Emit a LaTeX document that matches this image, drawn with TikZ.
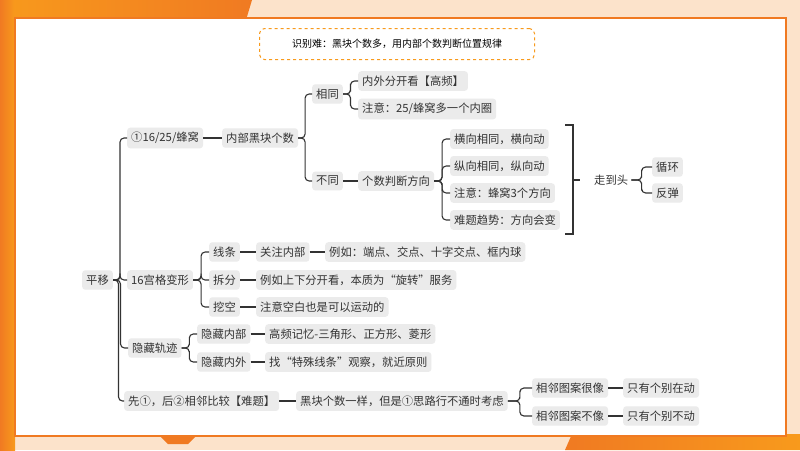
\documentclass[tikz,border=0pt]{standalone}
\usepackage{fontspec}
\setmainfont{Noto Sans CJK SC}
\usetikzlibrary{calc}
\begin{document}
\begin{tikzpicture}[x=1pt,y=-1pt,
  nd/.style={anchor=west,fill=black!8,rounded corners=3pt,inner xsep=4pt,inner ysep=4.5pt,font=\fontsize{11.3}{12}\selectfont,text=black!80},
  pl/.style={anchor=west,inner sep=3pt,font=\fontsize{11.3}{12}\selectfont,text=black!80},
  ln/.style={draw=black!80,line width=1.1pt,rounded corners=4pt}]
\definecolor{peach}{HTML}{FCE3CB}
\definecolor{org}{HTML}{F07A22}
\definecolor{orgL}{HTML}{F89A1C}
\useasboundingbox (0,0) rectangle (800,450);
\fill[peach] (0,0) rectangle (800,450);
\shade[left color=orgL,right color=org] (0,0) -- (252,0) -- (246,20) -- (0,20) -- cycle;
\shade[left color=org,right color=orgL] (0,0) -- (15,0) -- (15,450) -- (0,450) -- cycle;
\shade[left color=org,right color=orgL] (565,450) -- (572,434) -- (800,434) -- (800,450) -- cycle;
\fill[org] (160,436) -- (196,436) -- (188,444) -- (168,444) -- cycle;
\draw[org,line width=1.5pt,fill=white] (15,18) rectangle (786,436);
\node[draw=orgL,dashed,line width=1pt,rounded corners=5pt,minimum width=275,minimum height=31,font=\fontsize{10}{11}\selectfont] (top) at (397,44) {识别难：黑块个数多，用内部个数判断位置规律};

\node[nd] (r) at (82,280) {平移};
\node[nd] (a) at (127,138) {①16/25/蜂窝};
\node[nd] (a1) at (222,138) {内部黑块个数};
\node[nd] (s) at (312,94) {相同};
\node[nd] (s1) at (358,81) {内外分开看【高频】};
\node[nd] (s2) at (358,109) {注意：25/蜂窝多一个内圈};
\node[nd] (d) at (312,181) {不同};
\node[nd] (d1) at (358,181) {个数判断方向};
\node[nd] (e1) at (450,139) {横向相同，横向动};
\node[nd] (e2) at (450,166) {纵向相同，纵向动};
\node[nd] (e3) at (450,193) {注意：蜂窝3个方向};
\node[nd] (e4) at (450,220) {难题趋势：方向会变};
\coordinate (bk) at (580,180);
\node[pl] (w) at (591,180) {走到头};
\node[nd] (w1) at (652,167) {循环};
\node[nd] (w2) at (652,193) {反弹};
\node[nd] (b) at (127,280) {16宫格变形};
\node[nd] (b1) at (209,252) {线条};
\node[nd] (b11) at (256,252) {关注内部};
\node[nd] (b12) at (325,252) {例如：端点、交点、十字交点、框内球};
\node[nd] (b2) at (209,280) {拆分};
\node[nd] (b21) at (256,280) {例如上下分开看，本质为“旋转”服务};
\node[nd] (b3) at (209,307) {挖空};
\node[nd] (b31) at (256,307) {注意空白也是可以运动的};
\node[nd] (c) at (128,348) {隐藏轨迹};
\node[nd] (c1) at (197,334) {隐藏内部};
\node[nd] (c11) at (265,334) {高频记忆-三角形、正方形、菱形};
\node[nd] (c2) at (197,362) {隐藏内外};
\node[nd] (c21) at (265,362) {找“特殊线条”观察，就近原则};
\node[nd] (f) at (124,401) {先①，后②相邻比较【难题】};
\node[nd] (f1) at (296,401) {黑块个数一样，但是①思路行不通时考虑};
\node[nd] (g1) at (532,388) {相邻图案很像};
\node[nd] (g11) at (623,388) {只有个别在动};
\node[nd] (g2) at (532,416) {相邻图案不像};
\node[nd] (g21) at (623,416) {只有个别不动};

\foreach \p/\c/\k in {r/a/1,r/b/1,r/c/1,r/f/1,a/a1/0,a1/s/1,a1/d/1,s/s1/1,s/s2/1,d/d1/0,d1/e1/1,d1/e2/1,d1/e3/1,d1/e4/1,w/w1/1,w/w2/1,b/b1/1,b/b2/1,b/b3/1,b1/b11/0,b11/b12/0,b2/b21/0,b3/b31/0,c/c1/1,c/c2/1,c1/c11/0,c2/c21/0,f/f1/0,f1/g1/1,f1/g2/1,g1/g11/0,g2/g21/0}
  {\ifnum\k=0 \draw[ln] (\p.east) -- (\c.west);\else \draw[ln] (\p.east) -| ($(\p.east)!.5!(\c.west)$) |- (\c.west);\fi}
\draw[black!80,line width=1.1pt] (565,125) -- (573,125) -- (573,234) -- (565,234);
\draw[black!80,line width=1.1pt] (573,180) -- (bk);
\end{tikzpicture}
\end{document}
